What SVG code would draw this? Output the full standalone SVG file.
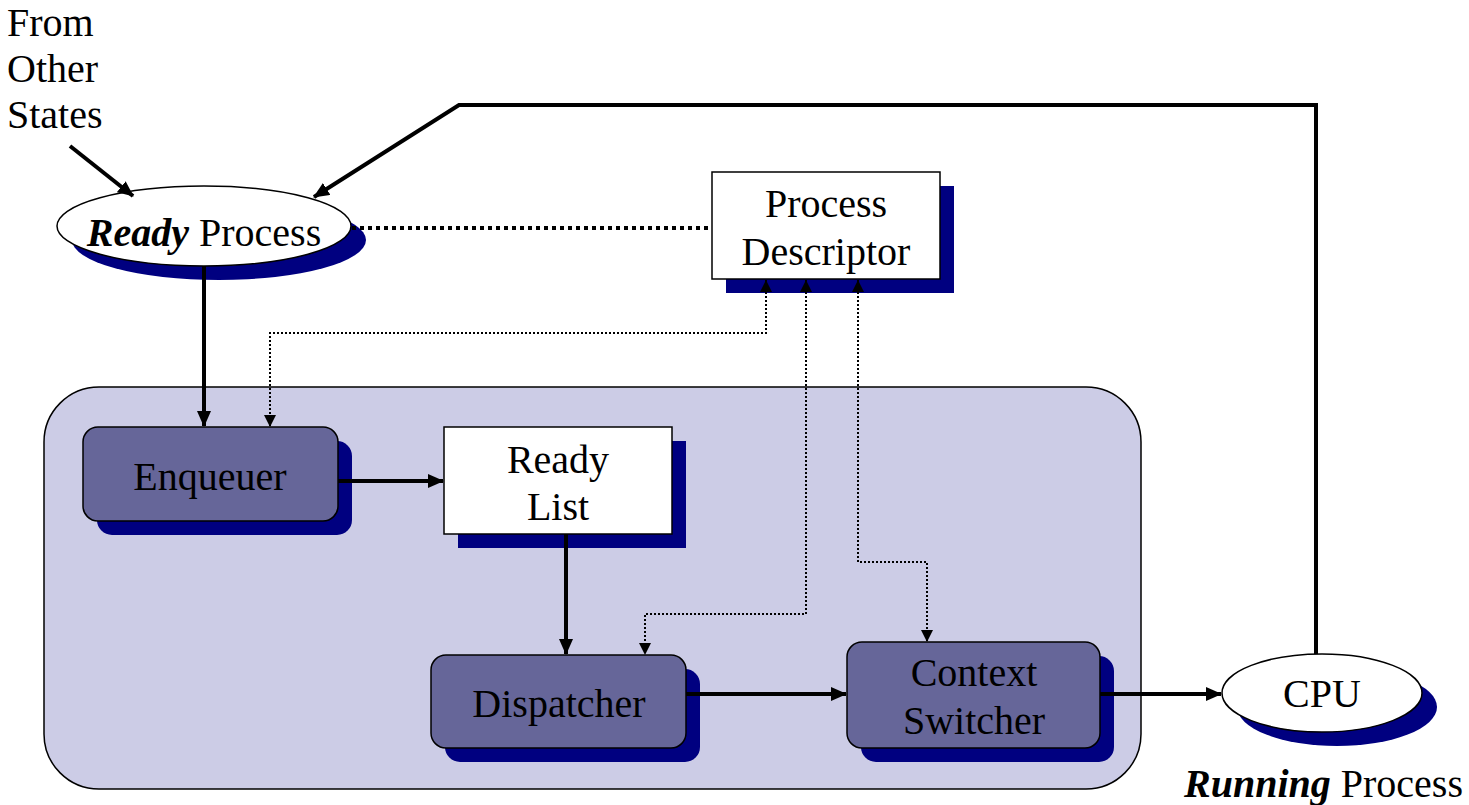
<svg xmlns="http://www.w3.org/2000/svg" width="1469" height="805" viewBox="0 0 1469 805">
<style>
text{font-family:"Liberation Serif","Times New Roman",serif;font-size:40px;fill:#000}
.c{text-anchor:middle}
.bi{font-weight:bold;font-style:italic}
.sh{fill:#000080}
.proc{fill:#666699;stroke:#000;stroke-width:1.5}
.data{fill:#fff;stroke:#000;stroke-width:1.5}
.thick{fill:none;stroke:#000;stroke-width:4}
.dot{fill:none;stroke:#000;stroke-width:2;stroke-dasharray:2 2}
.tdot{fill:none;stroke:#000;stroke-width:4;stroke-dasharray:4 4}
</style>
<defs>
<marker id="ah" markerUnits="userSpaceOnUse" markerWidth="16" markerHeight="14" refX="15" refY="7" orient="auto"><path d="M0,0 L16,7 L0,14 z" fill="#000"/></marker>
<marker id="dh" markerUnits="userSpaceOnUse" markerWidth="12" markerHeight="12" refX="12" refY="6" orient="auto-start-reverse"><path d="M0,0 L12,6 L0,12 z" fill="#000"/></marker>
</defs>
<rect id="scheduler" x="44" y="387" width="1097" height="402" rx="55" fill="#CCCCE6" stroke="#000" stroke-width="1.5"/>
<g id="from-other-states">
<text x="7" y="36">From</text>
<text x="7" y="82">Other</text>
<text x="7" y="128">States</text>
</g>
<g id="ready-process">
<ellipse class="sh" cx="219" cy="240" rx="147" ry="40"/>
<ellipse class="data" cx="204" cy="226" rx="147" ry="40"/>
<text class="c" x="204" y="246"><tspan class="bi">Ready</tspan> Process</text>
</g>
<g id="process-descriptor">
<rect class="sh" x="726" y="186" width="228" height="107"/>
<rect class="data" x="712" y="172" width="228" height="107"/>
<text class="c" x="826" y="217">Process</text>
<text class="c" x="826" y="265">Descriptor</text>
</g>
<g id="enqueuer">
<rect class="sh" x="97" y="441" width="255" height="94" rx="15"/>
<rect class="proc" x="83" y="427" width="255" height="94" rx="15"/>
<text class="c" x="210" y="490">Enqueuer</text>
</g>
<g id="ready-list">
<rect class="sh" x="458" y="441" width="228" height="107"/>
<rect class="data" x="444" y="427" width="228" height="107"/>
<text class="c" x="558" y="473">Ready</text>
<text class="c" x="558" y="520">List</text>
</g>
<g id="dispatcher">
<rect class="sh" x="445" y="669" width="255" height="93" rx="15"/>
<rect class="proc" x="431" y="655" width="255" height="93" rx="15"/>
<text class="c" x="559" y="717">Dispatcher</text>
</g>
<g id="context-switcher">
<rect class="sh" x="861" y="656" width="253" height="106" rx="15"/>
<rect class="proc" x="847" y="642" width="253" height="106" rx="15"/>
<text class="c" x="974" y="686">Context</text>
<text class="c" x="974" y="734">Switcher</text>
</g>
<g id="cpu">
<ellipse class="sh" cx="1337" cy="707" rx="100" ry="39"/>
<ellipse class="data" cx="1322" cy="693" rx="100" ry="39"/>
<text class="c" x="1322" y="707">CPU</text>
<text x="1463" y="797" style="text-anchor:end"><tspan class="bi">Running</tspan> Process</text>
</g>
<g id="connectors">
<path class="thick" d="M70,146 L133,196" marker-end="url(#ah)"/>
<path class="thick" d="M1316,654 L1316,105 L459,105 L314,197" marker-end="url(#ah)"/>
<path class="tdot" d="M352,228 L712,228"/>
<path class="thick" d="M204,266 L204,426" marker-end="url(#ah)"/>
<path class="dot" d="M766,280 L766,333 L270,333 L270,427" marker-start="url(#dh)" marker-end="url(#dh)"/>
<path class="dot" d="M806,280 L806,614 L645,614 L645,655" marker-start="url(#dh)" marker-end="url(#dh)"/>
<path class="dot" d="M858,280 L858,562 L927,562 L927,642" marker-start="url(#dh)" marker-end="url(#dh)"/>
<path class="thick" d="M338,481 L443,481" marker-end="url(#ah)"/>
<path class="thick" d="M566,534 L566,654" marker-end="url(#ah)"/>
<path class="thick" d="M686,694 L846,694" marker-end="url(#ah)"/>
<path class="thick" d="M1100,694 L1221,694" marker-end="url(#ah)"/>
</g>
</svg>
